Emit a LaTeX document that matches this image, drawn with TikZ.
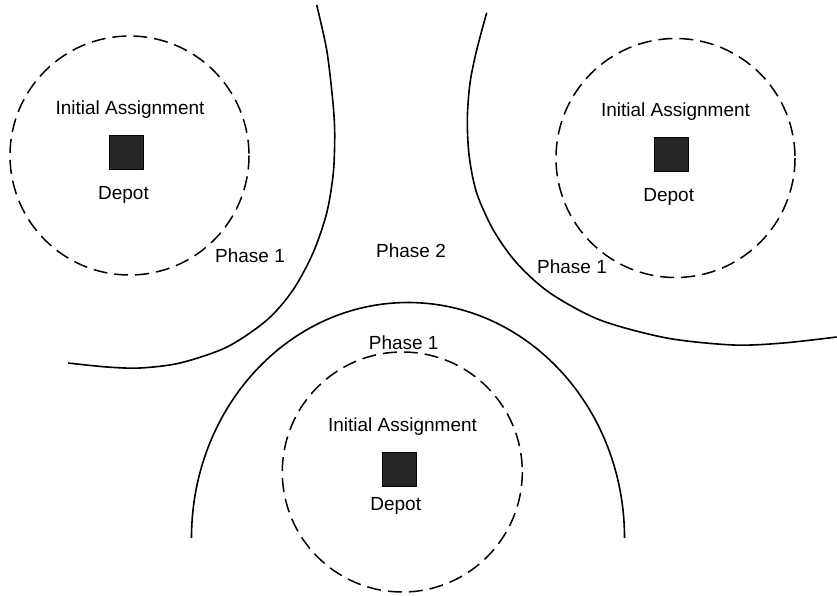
\documentclass[tikz,border=0pt]{standalone}
\usepackage{fontspec}
\setmainfont{Liberation Sans}
\begin{document}
\begin{tikzpicture}[x=1pt,y=-1pt,
  boundary/.style={line width=1.6pt},
  zone/.style={line width=1.5pt, dash pattern=on 14pt off 7pt},
  depot/.style={draw=black, line width=0.9pt, fill=black!85, minimum size=34pt, inner sep=0pt},
  lbl/.style={font=\fontsize{19}{22}\selectfont, anchor=base, inner sep=0pt}]
\useasboundingbox (0,0) rectangle (837,596);

% phase boundaries
\draw[boundary] plot[smooth] coordinates {(316.7,5) (326.7,50) (332.7,100) (334.7,133) (333.3,173) (326.7,213) (313,253) (293,290) (267,320) (227,347) (180,363) (140,368) (107,367) (68,363)};
\draw[boundary] plot[smooth] coordinates {(486.7,12.7) (476.7,50) (470,83) (467.3,120) (469.3,157) (476.7,193) (493.3,230) (516.7,263) (550,293) (600,320) (666.7,338) (733.3,345) (783.3,343) (836.7,337)};
\draw[boundary] (191.5,538) arc[start angle=180, end angle=360, x radius=216.5, y radius=235.5];

% initial assignment zones
\draw[zone] (129.5,155.5) circle[radius=119.5];
\draw[zone] (675.5,158) circle[radius=119.5];
\draw[zone] (402.3,472) circle[radius=120];

% depots
\node[depot] (d1) at (126.5,152.5) {};
\node[depot] (d2) at (671.7,154.8) {};
\node[depot] (d3) at (399.3,469.8) {};

% labels
\node[lbl] (ia1) at (130,114.3) {Initial Assignment};
\node[lbl] (dl1) at (123.5,199.3) {Depot};
\node[lbl] (p11) at (250,262.7) {Phase 1};

\node[lbl] (ia2) at (675.5,116.7) {Initial Assignment};
\node[lbl] (dl2) at (668.7,201.7) {Depot};
\node[lbl] (p12) at (572,273.3) {Phase 1};

\node[lbl] (ia3) at (402.5,431.7) {Initial Assignment};
\node[lbl] (dl3) at (395.7,510.7) {Depot};
\node[lbl] (p13) at (403.7,349) {Phase 1};

\node[lbl] (p2) at (411,257.3) {Phase 2};
\end{tikzpicture}
\end{document}
